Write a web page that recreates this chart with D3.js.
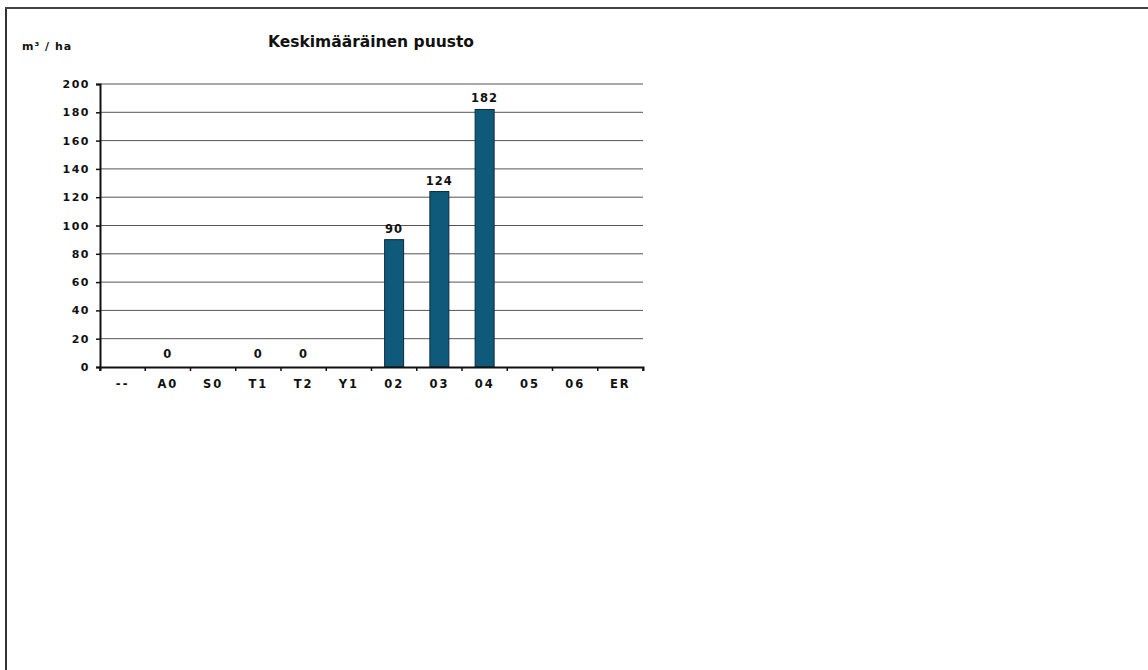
<!DOCTYPE html>
<html><head><meta charset="utf-8">
<script src="https://cdn.jsdelivr.net/npm/d3@7"></script>
<style>
body{margin:0;background:#fff;}
text{font-family:"DejaVu Sans",Verdana,sans-serif;font-weight:bold;fill:#111;}
</style></head>
<body><svg id="c" width="1148" height="670"></svg>
<script>
const categories = ["--","A0","S0","T1","T2","Y1","02","03","04","05","06","ER"];
const values = [null,0,null,0,0,null,90,124,182,null,null,null];
const yTicks = [0,20,40,60,80,100,120,140,160,180,200];
const title = "Keskimääräinen puusto";
const unit = "m³ / ha";

const svg = d3.select("#c");
// frame
svg.append("line").attr("x1",6).attr("x2",6).attr("y1",7).attr("y2",670).attr("stroke","#333").attr("stroke-width",2);
svg.append("line").attr("x1",5).attr("x2",1148).attr("y1",8).attr("y2",8).attr("stroke","#444").attr("stroke-width",2);

const L=100,R=643,T=84,B=367;
const x = d3.scaleBand().domain(categories).range([L,R]).paddingInner(0.58).paddingOuter(0.29);
const xs = d3.scaleBand().domain(categories).range([L,R]);
const y = d3.scaleLinear().domain([0,200]).range([B,T]);

// grid
svg.append("g").selectAll("line").data(yTicks.filter(d=>d>0)).join("line")
  .attr("x1",L).attr("x2",R).attr("y1",d=>y(d)).attr("y2",d=>y(d))
  .attr("stroke","#555").attr("stroke-width",1);

// bars
svg.append("g").selectAll("rect").data(categories.map((c,i)=>({c,v:values[i]})).filter(d=>d.v>0)).join("rect")
  .attr("x",d=>x(d.c)).attr("width",x.bandwidth()).attr("y",d=>y(d.v)).attr("height",d=>B-y(d.v))
  .attr("fill","#0f5a7a").attr("stroke","#0a2c3c").attr("stroke-width",1);

// y axis
const ya = svg.append("g").attr("transform",`translate(${L},0)`)
  .call(d3.axisLeft(y).tickValues(yTicks).tickSize(4).tickPadding(6).tickFormat(d3.format("d")));
ya.select(".domain").attr("stroke","#111").attr("stroke-width",2);
ya.selectAll(".tick line").attr("stroke","#111").attr("stroke-width",1.5);
ya.selectAll("text").style("font-size","11px").style("letter-spacing","1.5px").attr("fill","#111");

// x axis
const xa = svg.append("g").attr("transform",`translate(0,${B})`)
  .call(d3.axisBottom(xs).tickSize(4).tickPadding(9).tickSizeOuter(4));
xa.select(".domain").attr("stroke","#111").attr("stroke-width",2);
xa.selectAll(".tick line").attr("stroke","#111").attr("stroke-width",1.5)
  .attr("transform",`translate(${-xs.bandwidth()/2},0)`);
xa.selectAll("text").style("font-size","11.5px").style("letter-spacing","2px").attr("fill","#111");
// last right-end tick
svg.append("line").attr("x1",R).attr("x2",R).attr("y1",B).attr("y2",B+4).attr("stroke","#111").attr("stroke-width",1.5);

// value labels
svg.append("g").selectAll("text").data(categories.map((c,i)=>({c,v:values[i]})).filter(d=>d.v!==null)).join("text")
  .attr("x",d=>xs(d.c)+xs.bandwidth()/2).attr("y",d=>d.v>0?y(d.v)-7:B-9)
  .attr("text-anchor","middle").style("font-size","11.5px").style("letter-spacing","1px")
  .text(d=>d.v);

svg.append("text").attr("x",371).attr("y",47).attr("text-anchor","middle").style("font-size","15.5px").text(title);
svg.append("text").attr("x",22).attr("y",50).style("font-size","11px").style("letter-spacing","1px").text(unit);
</script></body></html>
